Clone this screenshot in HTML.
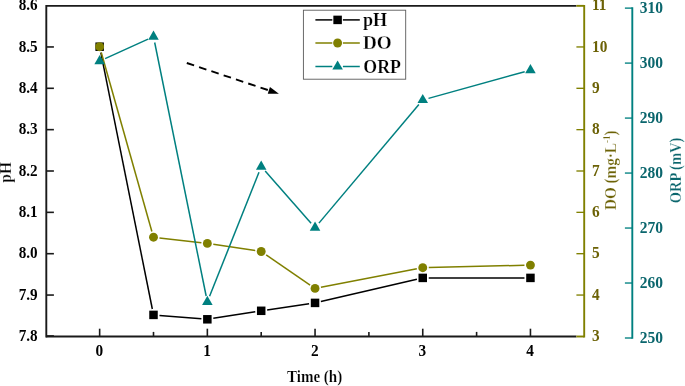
<!DOCTYPE html>
<html><head><meta charset="utf-8"><title>chart</title>
<style>html,body{margin:0;padding:0;background:#fff;overflow:hidden}svg{display:block}</style></head>
<body>
<svg width="685" height="386" viewBox="0 0 685 386">
<rect width="685" height="386" fill="#fff"/>
<g stroke="#1a1a1a" stroke-width="1.9" fill="none" stroke-linecap="butt">
<line x1="46.3" y1="4.8999999999999995" x2="46.3" y2="337.45"/>
<line x1="46.3" y1="5.85" x2="576.4000000000001" y2="5.85"/>
<line x1="46.3" y1="336.5" x2="576.4000000000001" y2="336.5"/>
</g>
<g stroke="#1a1a1a" stroke-width="1.6">
<line x1="46.3" y1="335.95" x2="53.9" y2="335.95"/>
<line x1="46.3" y1="295.05" x2="53.9" y2="295.05"/>
<line x1="46.3" y1="253.70" x2="53.9" y2="253.70"/>
<line x1="46.3" y1="212.35" x2="53.9" y2="212.35"/>
<line x1="46.3" y1="171.00" x2="53.9" y2="171.00"/>
<line x1="46.3" y1="129.65" x2="53.9" y2="129.65"/>
<line x1="46.3" y1="88.30" x2="53.9" y2="88.30"/>
<line x1="46.3" y1="46.95" x2="53.9" y2="46.95"/>
<line x1="99.65" y1="336.5" x2="99.65" y2="328.7"/>
<line x1="207.35" y1="336.5" x2="207.35" y2="328.7"/>
<line x1="315.05" y1="336.5" x2="315.05" y2="328.7"/>
<line x1="422.75" y1="336.5" x2="422.75" y2="328.7"/>
<line x1="530.45" y1="336.5" x2="530.45" y2="328.7"/>
<line x1="153.50" y1="336.5" x2="153.50" y2="331.9"/>
<line x1="261.20" y1="336.5" x2="261.20" y2="331.9"/>
<line x1="368.90" y1="336.5" x2="368.90" y2="331.9"/>
<line x1="476.60" y1="336.5" x2="476.60" y2="331.9"/>
</g>
<g stroke="#808000" stroke-width="1.9">
<line x1="584.2" y1="4.8999999999999995" x2="584.2" y2="337.45"/>
</g>
<g stroke="#808000" stroke-width="1.6">
<line x1="576.4000000000001" y1="336.50" x2="584.2" y2="336.50" stroke-width="1.9"/>
<line x1="576.4000000000001" y1="295.05" x2="584.2" y2="295.05" stroke-width="1.35"/>
<line x1="576.4000000000001" y1="253.70" x2="584.2" y2="253.70" stroke-width="1.35"/>
<line x1="576.4000000000001" y1="212.35" x2="584.2" y2="212.35" stroke-width="1.35"/>
<line x1="576.4000000000001" y1="171.00" x2="584.2" y2="171.00" stroke-width="1.35"/>
<line x1="576.4000000000001" y1="129.65" x2="584.2" y2="129.65" stroke-width="1.35"/>
<line x1="576.4000000000001" y1="88.30" x2="584.2" y2="88.30" stroke-width="1.35"/>
<line x1="576.4000000000001" y1="46.95" x2="584.2" y2="46.95" stroke-width="1.35"/>
<line x1="576.4000000000001" y1="5.85" x2="584.2" y2="5.85" stroke-width="1.9"/>
</g>
<g stroke="#008080" stroke-width="1.9">
<line x1="632.3" y1="7.32" x2="632.3" y2="338.80"/>
</g>
<g stroke="#008080" stroke-width="1.35">
<line x1="624.9" y1="338.00" x2="632.3" y2="338.00"/>
<line x1="624.9" y1="283.02" x2="632.3" y2="283.02"/>
<line x1="624.9" y1="228.04" x2="632.3" y2="228.04"/>
<line x1="624.9" y1="173.06" x2="632.3" y2="173.06"/>
<line x1="624.9" y1="118.08" x2="632.3" y2="118.08"/>
<line x1="624.9" y1="63.10" x2="632.3" y2="63.10"/>
<line x1="624.9" y1="8.12" x2="632.3" y2="8.12"/>
</g>
<g stroke="#000000" stroke-width="1.5" fill="none">
<line x1="100.83" y1="52.58" x2="152.32" y2="309.02"/>
<line x1="159.48" y1="315.39" x2="201.37" y2="318.81"/>
<line x1="213.28" y1="318.36" x2="255.27" y2="311.74"/>
<line x1="267.14" y1="309.93" x2="309.11" y2="303.77"/>
<line x1="320.89" y1="301.54" x2="416.91" y2="279.26"/>
<line x1="428.75" y1="277.90" x2="524.45" y2="277.90"/>
</g>
<rect x="95.40" y="42.45" width="8.5" height="8.5" fill="#000000"/>
<rect x="149.25" y="310.65" width="8.5" height="8.5" fill="#000000"/>
<rect x="203.10" y="315.05" width="8.5" height="8.5" fill="#000000"/>
<rect x="256.95" y="306.55" width="8.5" height="8.5" fill="#000000"/>
<rect x="310.80" y="298.65" width="8.5" height="8.5" fill="#000000"/>
<rect x="418.50" y="273.65" width="8.5" height="8.5" fill="#000000"/>
<rect x="526.20" y="273.65" width="8.5" height="8.5" fill="#000000"/>
<g stroke="#808000" stroke-width="1.5" fill="none">
<line x1="101.28" y1="52.47" x2="151.87" y2="231.43"/>
<line x1="159.46" y1="237.89" x2="201.39" y2="242.71"/>
<line x1="213.28" y1="244.29" x2="255.27" y2="250.61"/>
<line x1="266.15" y1="254.89" x2="310.10" y2="285.01"/>
<line x1="320.94" y1="287.27" x2="416.86" y2="268.83"/>
<line x1="428.75" y1="267.56" x2="524.45" y2="265.24"/>
</g>
<circle cx="99.65" cy="46.70" r="4.45" fill="#808000"/>
<circle cx="153.50" cy="237.20" r="4.45" fill="#808000"/>
<circle cx="207.35" cy="243.40" r="4.45" fill="#808000"/>
<circle cx="261.20" cy="251.50" r="4.45" fill="#808000"/>
<circle cx="315.05" cy="288.40" r="4.45" fill="#808000"/>
<circle cx="422.75" cy="267.70" r="4.45" fill="#808000"/>
<circle cx="530.45" cy="265.10" r="4.45" fill="#808000"/>
<g stroke="#008080" stroke-width="1.5" fill="none">
<line x1="105.11" y1="58.62" x2="148.04" y2="39.08"/>
<line x1="154.69" y1="42.48" x2="206.16" y2="296.02"/>
<line x1="209.57" y1="296.33" x2="258.98" y2="172.17"/>
<line x1="265.17" y1="171.10" x2="311.08" y2="223.20"/>
<line x1="318.92" y1="223.11" x2="418.88" y2="104.59"/>
<line x1="428.53" y1="98.39" x2="524.67" y2="71.71"/>
</g>
<polygon points="99.65,55.00 94.37,64.15 104.93,64.15" fill="#008080"/>
<polygon points="153.50,30.50 148.22,39.65 158.78,39.65" fill="#008080"/>
<polygon points="207.35,295.80 202.07,304.95 212.63,304.95" fill="#008080"/>
<polygon points="261.20,160.50 255.92,169.65 266.48,169.65" fill="#008080"/>
<polygon points="315.05,221.60 309.77,230.75 320.33,230.75" fill="#008080"/>
<polygon points="422.75,93.90 417.47,103.05 428.03,103.05" fill="#008080"/>
<polygon points="530.45,64.00 525.17,73.15 535.73,73.15" fill="#008080"/>
<line x1="186.8" y1="63.0" x2="268.84" y2="90.35" stroke="#000000" stroke-width="1.9" stroke-dasharray="7.7 5.25"/>
<polygon points="278.9,93.7 267.74,93.67 269.95,87.03" fill="#000000"/>
<rect x="303.4" y="10.2" width="102.3" height="69" fill="#fff" stroke="#5a5a5a" stroke-width="0.9"/>
<line x1="315.4" y1="19.9" x2="332.3" y2="19.9" stroke="#000000" stroke-width="1.5"/>
<line x1="342.90000000000003" y1="19.9" x2="359.8" y2="19.9" stroke="#000000" stroke-width="1.5"/>
<rect x="333.35" y="15.65" width="8.5" height="8.5" fill="#000000"/>
<line x1="315.4" y1="43.0" x2="332.3" y2="43.0" stroke="#808000" stroke-width="1.5"/>
<line x1="342.90000000000003" y1="43.0" x2="359.8" y2="43.0" stroke="#808000" stroke-width="1.5"/>
<circle cx="337.60" cy="43.00" r="4.45" fill="#808000"/>
<line x1="315.4" y1="66.5" x2="332.3" y2="66.5" stroke="#008080" stroke-width="1.5"/>
<line x1="342.90000000000003" y1="66.5" x2="359.8" y2="66.5" stroke="#008080" stroke-width="1.5"/>
<polygon points="337.60,60.40 332.32,69.55 342.88,69.55" fill="#008080"/>
<g style="font-family:&quot;Liberation Serif&quot;,serif;font-weight:bold;opacity:0.999">
<text transform="translate(37.70,341.00) scale(0.92,1)" font-size="16.5" text-anchor="end" fill="#000000">7.8</text>
<text transform="translate(37.70,299.65) scale(0.92,1)" font-size="16.5" text-anchor="end" fill="#000000">7.9</text>
<text transform="translate(37.70,258.30) scale(0.92,1)" font-size="16.5" text-anchor="end" fill="#000000">8.0</text>
<text transform="translate(37.70,216.95) scale(0.92,1)" font-size="16.5" text-anchor="end" fill="#000000">8.1</text>
<text transform="translate(37.70,175.60) scale(0.92,1)" font-size="16.5" text-anchor="end" fill="#000000">8.2</text>
<text transform="translate(37.70,134.25) scale(0.92,1)" font-size="16.5" text-anchor="end" fill="#000000">8.3</text>
<text transform="translate(37.70,92.90) scale(0.92,1)" font-size="16.5" text-anchor="end" fill="#000000">8.4</text>
<text transform="translate(37.70,51.55) scale(0.92,1)" font-size="16.5" text-anchor="end" fill="#000000">8.5</text>
<text transform="translate(37.70,10.20) scale(0.92,1)" font-size="16.5" text-anchor="end" fill="#000000">8.6</text>
<text transform="translate(99.35,355.80) scale(0.93,1)" font-size="16.5" text-anchor="middle" fill="#000000">0</text>
<text transform="translate(207.05,355.80) scale(0.93,1)" font-size="16.5" text-anchor="middle" fill="#000000">1</text>
<text transform="translate(314.75,355.80) scale(0.93,1)" font-size="16.5" text-anchor="middle" fill="#000000">2</text>
<text transform="translate(422.45,355.80) scale(0.93,1)" font-size="16.5" text-anchor="middle" fill="#000000">3</text>
<text transform="translate(530.15,355.80) scale(0.93,1)" font-size="16.5" text-anchor="middle" fill="#000000">4</text>
<text transform="translate(592.00,341.00) scale(0.93,1)" font-size="16.5" text-anchor="start" fill="#6c6206">3</text>
<text transform="translate(592.00,299.65) scale(0.93,1)" font-size="16.5" text-anchor="start" fill="#6c6206">4</text>
<text transform="translate(592.00,258.30) scale(0.93,1)" font-size="16.5" text-anchor="start" fill="#6c6206">5</text>
<text transform="translate(592.00,216.95) scale(0.93,1)" font-size="16.5" text-anchor="start" fill="#6c6206">6</text>
<text transform="translate(592.00,175.60) scale(0.93,1)" font-size="16.5" text-anchor="start" fill="#6c6206">7</text>
<text transform="translate(592.00,134.25) scale(0.93,1)" font-size="16.5" text-anchor="start" fill="#6c6206">8</text>
<text transform="translate(592.00,92.90) scale(0.93,1)" font-size="16.5" text-anchor="start" fill="#6c6206">9</text>
<text transform="translate(592.00,51.55) scale(0.93,1)" font-size="16.5" text-anchor="start" fill="#6c6206">10</text>
<text transform="translate(592.00,10.20) scale(0.93,1)" font-size="16.5" text-anchor="start" fill="#6c6206">11</text>
<text transform="translate(639.80,342.60) scale(0.94,1)" font-size="16.5" text-anchor="start" fill="#0b666d">250</text>
<text transform="translate(639.80,287.62) scale(0.94,1)" font-size="16.5" text-anchor="start" fill="#0b666d">260</text>
<text transform="translate(639.80,232.64) scale(0.94,1)" font-size="16.5" text-anchor="start" fill="#0b666d">270</text>
<text transform="translate(639.80,177.66) scale(0.94,1)" font-size="16.5" text-anchor="start" fill="#0b666d">280</text>
<text transform="translate(639.80,122.68) scale(0.94,1)" font-size="16.5" text-anchor="start" fill="#0b666d">290</text>
<text transform="translate(639.80,67.70) scale(0.94,1)" font-size="16.5" text-anchor="start" fill="#0b666d">300</text>
<text transform="translate(639.80,12.72) scale(0.94,1)" font-size="16.5" text-anchor="start" fill="#0b666d">310</text>
<text transform="translate(363.00,25.60) scale(0.93,1)" font-size="19.5" text-anchor="start" fill="#000000" stroke="#fff" stroke-width="0.25">pH</text>
<text transform="translate(362.90,49.10) scale(0.985,1)" font-size="19.5" text-anchor="start" fill="#000000" stroke="#fff" stroke-width="0.25">DO</text>
<text transform="translate(363.30,72.90) scale(0.915,1)" font-size="19.5" text-anchor="start" fill="#000000" stroke="#fff" stroke-width="0.25">ORP</text>
<text transform="translate(314.60,382.40) scale(0.94,1)" font-size="16" text-anchor="middle" fill="#000000" stroke="#fff" stroke-width="0.2">Time (h)</text>
<text transform="translate(11.30,172.40) rotate(-90) scale(0.885,1)" font-size="17.5" text-anchor="middle" fill="#000000" stroke="#fff" stroke-width="0.28">pH</text>
<text transform="translate(616.40,170.20) rotate(-90) scale(0.865,1)" font-size="17.5" text-anchor="middle" fill="#6c6206" stroke="#fff" stroke-width="0.28">DO (mg·L<tspan font-size="10.5" dy="-6">-1</tspan><tspan dy="6">)</tspan></text>
<text transform="translate(681.00,170.50) rotate(-90) scale(0.83,1)" font-size="17.5" text-anchor="middle" fill="#0b666d" stroke="#fff" stroke-width="0.28">ORP (mV)</text>
</g>
</svg>
</body></html>
